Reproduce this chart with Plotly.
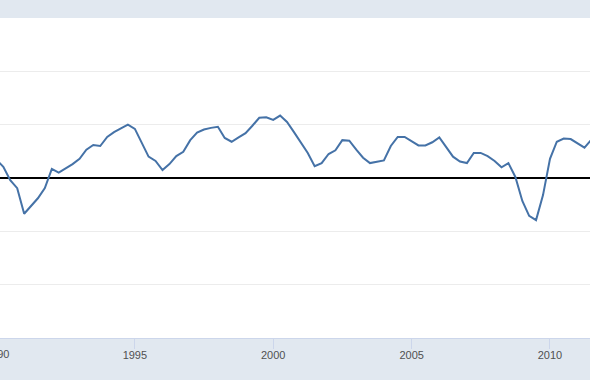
import plotly.graph_objects as go
import pandas as pd

# Quarterly series, 1990Q1 .. 2011Q3
start_quarter = "1990-01-01"
values = [
    0.34, 0.21, -0.04, -0.19,   # 1990
    -0.67, -0.53, -0.38, -0.19, # 1991
    0.17, 0.10, 0.18, 0.26,     # 1992
    0.36, 0.53, 0.62, 0.60,     # 1993
    0.77, 0.86, 0.93, 1.00,     # 1994
    0.92, 0.66, 0.40, 0.32,     # 1995
    0.15, 0.26, 0.41, 0.49,     # 1996
    0.71, 0.85, 0.91, 0.94,     # 1997
    0.96, 0.75, 0.68, 0.76,     # 1998
    0.84, 0.98, 1.13, 1.14,     # 1999
    1.09, 1.17, 1.05, 0.86,     # 2000
    0.67, 0.47, 0.22, 0.28,     # 2001
    0.45, 0.52, 0.71, 0.70,     # 2002
    0.53, 0.38, 0.28, 0.30,     # 2003
    0.33, 0.60, 0.77, 0.77,     # 2004
    0.69, 0.61, 0.61, 0.67,     # 2005
    0.76, 0.58, 0.40, 0.31,     # 2006
    0.28, 0.47, 0.47, 0.41,     # 2007
    0.32, 0.20, 0.28, 0.02,     # 2008
    -0.43, -0.71, -0.79, -0.32, # 2009
    0.36, 0.68, 0.74, 0.73,     # 2010
    0.65, 0.57, 0.72,           # 2011
]
dates = pd.date_range(start_quarter, periods=len(values), freq="QS")

tick_years = ["1990", "1995", "2000", "2005", "2010"]
x_range = ["1990-02-16", "2011-06-13"]
y_range = [-3, 3]

fig = go.Figure()
fig.add_trace(go.Scatter(
    x=dates, y=values, mode="lines",
    line=dict(color="#4572a7", width=2),
    hoverinfo="skip", showlegend=False,
))

tickvals = [f"{y}-01-01" for y in tick_years]
label_font = dict(family="Liberation Sans, Arial, sans-serif", size=11, color="#505050")

fig.update_layout(
    width=590, height=380,
    margin=dict(l=0, r=0, t=18, b=42),
    paper_bgcolor="#e1e8f0",
    plot_bgcolor="#ffffff",
    font=label_font,
    xaxis=dict(
        type="date", range=x_range,
        tickvals=tickvals, ticktext=tick_years,
        ticks="outside", ticklen=10, tickcolor="#ccd6eb", tickwidth=1,
        ticklabelstandoff=-3,
        showgrid=False, showline=True, linecolor="#ccd6eb", linewidth=1,
        zeroline=False,
    ),
    yaxis=dict(
        range=y_range, dtick=1, tick0=0,
        showticklabels=False, ticks="",
        showgrid=True, gridcolor="#ececec", gridwidth=1,
        zeroline=True, zerolinecolor="#000000", zerolinewidth=2,
    ),
)

# The 1990 label sits just left of the visible range and is cut by the frame
r0 = pd.Timestamp(x_range[0]).value
r1 = pd.Timestamp(x_range[1]).value
t1990 = pd.Timestamp(tickvals[0]).value
xpaper = (t1990 - r0) / (r1 - r0)
fig.add_annotation(
    x=xpaper, xref="paper", y=0, yref="paper", yshift=-8,
    text=tick_years[0], showarrow=False, xanchor="center", yanchor="top",
    font=label_font,
)

fig.write_html(
    "out.html",
    config={"displayModeBar": False},
    post_script="document.body.style.margin='0';document.body.style.overflow='hidden';",
)
